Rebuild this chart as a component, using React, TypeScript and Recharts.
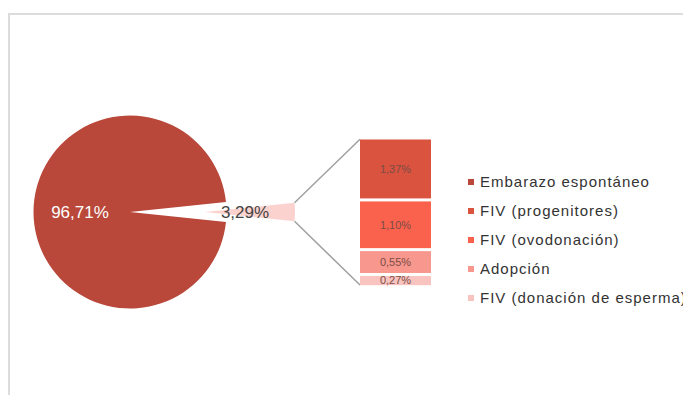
import { Bar, BarChart, Cell, LabelList, Pie, PieChart, XAxis, YAxis } from "recharts";

const pieNames = ["FIV y adopción", "Embarazo espontáneo"];
const pieValues = [3.29, 96.71];

const barNames = ["FIV (donación de esperma)", "Adopción", "FIV (ovodonación)", "FIV (progenitores)"];
const barValues = [0.27, 0.55, 1.1, 1.37];

const legendNames = [
  "Embarazo espontáneo",
  "FIV (progenitores)",
  "FIV (ovodonación)",
  "Adopción",
  "FIV (donación de esperma)",
];

const COLORS = {
  main: "#b9483a",
  small: "#fbd2ce",
  progenitores: "#d9533f",
  ovodonacion: "#fa624e",
  adopcion: "#f7978d",
  esperma: "#f9c4bf",
};
const barColors = [COLORS.esperma, COLORS.adopcion, COLORS.ovodonacion, COLORS.progenitores];
const legendColors = [COLORS.main, COLORS.progenitores, COLORS.ovodonacion, COLORS.adopcion, COLORS.esperma];

const FONT = "'Liberation Sans', Arial, Helvetica, sans-serif";
const RADIAN = Math.PI / 180;

const fmt = (v: number) => v.toFixed(2).replace(".", ",") + "%";

// geometry of the pie and the exploded slice
const CX = 122;
const CY = 204;
const R = 96.5;
const CX2 = 197;
const R2 = 90;
const half = (pieValues[0] / (pieValues[0] + pieValues[1])) * 180;

// stacked bar box
const BAR_X = 352;
const BAR_Y = 129.8;
const BAR_W = 71;
const BAR_H = 148.7;
const GAP = 1.5;

const pieData = pieNames.map((name, i) => ({ name, value: pieValues[i] }));
const barRow: Record<string, number | string> = { name: "FIV" };
barNames.forEach((n, i) => (barRow[n] = barValues[i]));

const slicedRect = (p: any) => (
  <rect x={p.x} y={p.y + GAP} width={p.width} height={Math.max(p.height - GAP * 2, 0)} fill={p.fill} />
);

const renderLabel = (which: number, dist: number, color: string) => (p: any) => {
  if (p.index !== which) return null;
  const x = p.cx + dist * Math.cos(-p.midAngle * RADIAN);
  const y = p.cy + dist * Math.sin(-p.midAngle * RADIAN);
  return (
    <text x={x} y={y} fill={color} fontSize={17} fontFamily={FONT} textAnchor="middle" dominantBaseline="central">
      {fmt(p.value)}
    </text>
  );
};

export default function App() {
  const ex = CX2 + R2 * Math.cos(half * RADIAN);
  const ey = R2 * Math.sin(half * RADIAN);
  return (
    <div style={{ position: "relative", width: 683, height: 387, fontFamily: FONT }}>
      <style>{"body { overflow: hidden; }"}</style>
      <div
        style={{
          position: "absolute",
          left: 0,
          top: 5,
          right: 0,
          bottom: -8,
          borderTop: "2px solid #dcdcdc",
          borderLeft: "2px solid #dcdcdc",
        }}
      />
      <div style={{ position: "absolute", left: 0, top: 0 }}>
        <PieChart width={683} height={387} margin={{ top: 0, right: 0, bottom: 0, left: 0 }}>
          <Pie
            data={pieData}
            dataKey="value"
            nameKey="name"
            cx={CX}
            cy={CY}
            outerRadius={R}
            startAngle={-half}
            endAngle={360 - half}
            stroke="none"
            labelLine={false}
            label={renderLabel(1, 50, "#ffffff")}
            isAnimationActive={false}
          >
            <Cell fill="none" />
            <Cell fill={COLORS.main} />
          </Pie>
          <Pie
            data={pieData}
            dataKey="value"
            nameKey="name"
            cx={CX2}
            cy={CY}
            outerRadius={R2}
            startAngle={-half}
            endAngle={360 - half}
            stroke="none"
            labelLine={false}
            label={renderLabel(0, 40, "#444444")}
            isAnimationActive={false}
          >
            <Cell fill={COLORS.small} />
            <Cell fill="none" />
          </Pie>
        </PieChart>
      </div>
      <svg style={{ position: "absolute", left: 0, top: 0 }} width={683} height={387}>
        <line x1={ex} y1={CY - ey} x2={BAR_X} y2={BAR_Y + GAP} stroke="#a0a0a0" strokeWidth={1.5} />
        <line x1={ex} y1={CY + ey} x2={BAR_X} y2={BAR_Y + BAR_H - GAP} stroke="#a0a0a0" strokeWidth={1.5} />
      </svg>
      <div style={{ position: "absolute", left: BAR_X, top: BAR_Y }}>
        <BarChart
          width={BAR_W}
          height={BAR_H}
          data={[barRow]}
          margin={{ top: 0, right: 0, bottom: 0, left: 0 }}
          barCategoryGap={0}
        >
          <XAxis dataKey="name" hide />
          <YAxis hide domain={[0, pieValues[0]]} />
          {barNames.map((n, i) => (
            <Bar key={n} dataKey={n} stackId="a" fill={barColors[i]} shape={slicedRect} isAnimationActive={false}>
              <LabelList
                dataKey={n}
                position="center"
                formatter={(v: any) => fmt(Number(v))}
                fill="#7a4c46"
                fontSize={11}
                fontFamily={FONT}
              />
            </Bar>
          ))}
        </BarChart>
      </div>
      <div style={{ position: "absolute", left: 460, top: 159, whiteSpace: "nowrap" }}>
        {legendNames.map((n, i) => (
          <div key={n} style={{ display: "flex", alignItems: "center", height: 29, color: "#333", fontSize: 15 }}>
            <span style={{ width: 6, height: 6, background: legendColors[i], marginRight: 6 }} />
            <span style={{ letterSpacing: 1 }}>{n}</span>
          </div>
        ))}
      </div>
    </div>
  );
}
